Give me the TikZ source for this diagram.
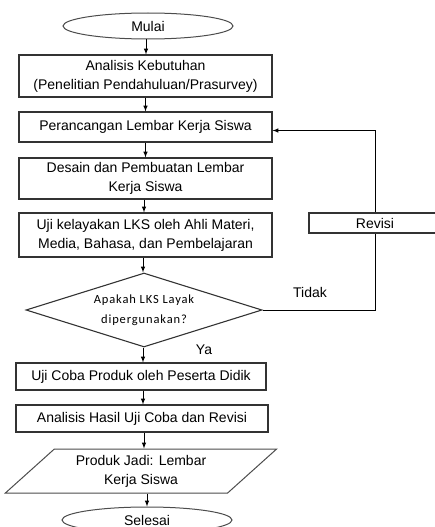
\documentclass[tikz,border=0pt]{standalone}
\usepackage{fontspec}
\setmainfont{Liberation Sans}
\newfontfamily\askfont[LetterSpace=7]{Carlito}
\usetikzlibrary{positioning,arrows,shapes.geometric}

\begin{document}
\begin{tikzpicture}[x=1pt, y=-1pt, >=latex,
  font=\fontsize{14}{19}\selectfont,
  box/.style={rectangle, draw=black!80, line width=1.1pt, align=center, inner sep=0pt},
  terminal/.style={ellipse, draw=black!70, line width=1pt, minimum width=170pt, minimum height=26pt, inner sep=0pt},
  decision/.style={diamond, draw=black!80, line width=1.1pt, aspect=3.2, minimum width=236pt, minimum height=74pt, inner sep=0pt, align=center, font=\askfont\fontsize{12.5}{20}\selectfont},
  io/.style={trapezium, trapezium left angle=41, trapezium right angle=139, trapezium stretches=true, draw=black!70, line width=1pt, minimum width=272pt, minimum height=44pt, inner sep=0pt, align=center},
  edge_style/.style={draw=black, line width=1pt, ->}]
  \clip (0,0) rectangle (435,527);
  \node[terminal] (mulai) at (148,26) {Mulai};
  \node[box, minimum width=253pt, minimum height=42pt] (kebutuhan) at (145.5,76) {Analisis Kebutuhan\\(Penelitian Pendahuluan/Prasurvey)};
  \node[box, minimum width=253pt, minimum height=30pt] (rancang) at (145.5,127) {Perancangan Lembar Kerja Siswa};
  \node[box, minimum width=253pt, minimum height=41pt] (desain) at (145.5,178.5) {Desain dan Pembuatan Lembar\\Kerja Siswa};
  \node[box, minimum width=253pt, minimum height=44pt] (kelayakan) at (145.5,235) {Uji kelayakan LKS oleh Ahli Materi,\\Media, Bahasa, dan Pembelajaran};
  \node[decision] (layak) at (144,310) {Apakah LKS Layak\\dipergunakan?};
  \node[box, minimum width=250pt, minimum height=27pt] (coba) at (141,376.5) {Uji Coba Produk oleh Peserta Didik};
  \node[box, minimum width=252pt, minimum height=27pt] (hasil) at (142,418.5) {Analisis Hasil Uji Coba dan Revisi};
  \node[io] (produk) at (141,471) {Produk Jadi: Lembar\\Kerja Siswa};
  \node[terminal] (selesai) at (147,520) {Selesai};
  \node[box, minimum width=132pt, minimum height=20pt] (revisi) at (375,223) {Revisi};
  \node (tidak) at (310,292) {Tidak};
  \node (ya) at (204,350) {Ya};

  % alur utama
  \draw[edge_style] (mulai.south -| 146,0) -- (146,0 |- kebutuhan.north);
  \draw[edge_style] (kebutuhan.south) -- (rancang.north);
  \draw[edge_style] (rancang.south) -- (desain.north);
  \draw[edge_style] (desain.south -| 144,0) -- (144,0 |- kelayakan.north);
  \draw[edge_style] (kelayakan.south -| 143,0) -- (143,0 |- layak.north);
  \draw[edge_style] (layak.south -| 143,0) -- (143,0 |- coba.north);
  \draw[edge_style] (coba.south -| 143,0) -- (143,0 |- hasil.north);
  \draw[edge_style] (hasil.south -| 144,0) -- (144,0 |- produk.north);
  \draw[edge_style] (produk.south -| selesai) -- (selesai.north);

  % revisi
  \draw[line width=1pt] (layak.east) -- (layak.east -| revisi) -- (revisi.south);
  \draw[edge_style] (revisi.north) |- ([yshift=-3.5pt]rancang.east);
\end{tikzpicture}
\end{document}
